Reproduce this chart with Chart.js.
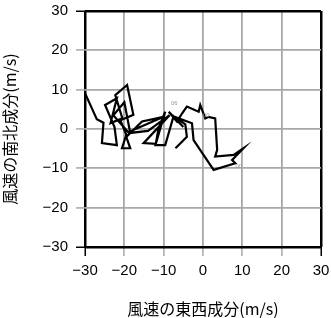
<!DOCTYPE html>
<html>
<head>
<meta charset="utf-8">
<script src="https://cdn.jsdelivr.net/npm/chart.js@4.4.1/dist/chart.umd.min.js"></script>
<style>
  html, body { margin: 0; padding: 0; background: #fff; }
  #box { width: 331px; height: 318px; }
</style>
</head>
<body>
<div id="box"><canvas id="hodo"></canvas></div>
<script>
// wind components (m/s): east-west (u) and north-south (v)
var windU = [-30, -27, -25.3, -25.7, -21.9, -22.5, -24.9, -21.9, -23.5, -20.5, -22.3, -19.3, -17.7, -21, -19.5, -20.6, -18.5, -19.5, -15.5, -10,
             -19, -22.8, -20, -18.5, -14, -8.5, -15.1, -12, -11.3, -9.6, -12.1, -9.6, -7.5, -5, -8.7, -6.6, -5.3, -4.1, -1.1, -0.7,
             0.6, 1.4, 3.1, 3.6, 3.1, 7.8, 10.3, 7.4, 8.2, 2.7, -2.4, -2.8, -7, -4.5, -4.1, -7];
var windV = [9.1, 2.5, 1.6, -3.6, -4.1, 0.5, 6.1, 7.8, 1.5, 2.7, 8.6, 11.2, 3.6, 2.2, -1.5, -4.9, -4.9, -2, 1.9, 3.1,
             -0.8, 3.5, 6.8, -1, -0.5, 3.5, -3.6, -3.8, 0.2, 4.4, -4.1, -4.1, 3.2, 0.5, 4.4, 1.9, 4, 5.7, 4.4, 6.1,
             2.7, 3.1, 2.7, -5.3, -7, -6.6, -4.9, -7.9, -8.7, -10.4, -2.8, 1.45, 3.0, 1.2, -2, -4.9];
// small time marks along the trace
var markText = ["06", "00", "00"];
var markU = [-7.3, 0.85, 9.1];
var markV = [6.6, 3.4, -9.4];

var pts = windU.map(function (u, i) { return { x: u, y: windV[i] }; });

function gridCol(c) {
  return (c.tick && (c.tick.value === -30 || c.tick.value === 30)) ? '#000' : '#a8a8a8';
}
function gridW(c) {
  return (c.tick && (c.tick.value === -30 || c.tick.value === 30)) ? 2.5 : 1.8;
}
function minusLabel(v) {
  return v < 0 ? '\u2212' + Math.abs(v) : '' + v;
}

var markPlugin = {
  id: 'marks',
  afterDatasetsDraw: function (chart) {
    var c = chart.ctx, sx = chart.scales.x, sy = chart.scales.y;
    c.save();
    c.font = '6px "Liberation Sans", Arial, sans-serif';
    c.fillStyle = '#999';
    c.textAlign = 'center';
    c.textBaseline = 'middle';
    markText.forEach(function (t, i) {
      c.fillText(t, sx.getPixelForValue(markU[i]), sy.getPixelForValue(markV[i]));
    });
    c.restore();
  }
};

var tickFont = { family: '"Liberation Sans", Arial, sans-serif', size: 15 };
var titleFont = { family: '"Noto Sans CJK JP", sans-serif', size: 16, lineHeight: 1.0 };

new Chart(document.getElementById('hodo'), {
  type: 'scatter',
  data: {
    datasets: [{
      data: pts,
      showLine: true,
      borderColor: '#000',
      borderWidth: 2.2,
      pointRadius: 0,
      tension: 0,
      fill: false
    }]
  },
  options: {
    responsive: true,
    maintainAspectRatio: false,
    animation: false,
    layout: { padding: { top: 11, right: 10, left: 0, bottom: 0 } },
    plugins: { legend: { display: false }, tooltip: { enabled: false } },
    scales: {
      x: {
        type: 'linear', min: -30, max: 30,
        afterFit: function (s) { s.height = 71; s.paddingLeft = 0; s.paddingRight = 0; },
        border: { display: false },
        grid: { color: gridCol, lineWidth: gridW, tickColor: gridCol, tickLength: 9, tickWidth: 1.5 },
        ticks: { stepSize: 10, color: '#000', font: tickFont, padding: 6, maxRotation: 0, callback: minusLabel },
        title: { display: true, text: '風速の東西成分(m/s)', color: '#000', font: titleFont, padding: { top: 0, bottom: 1 } }
      },
      y: {
        type: 'linear', min: -30, max: 30,
        afterFit: function (s) { s.width = 85; s.paddingTop = 0; s.paddingBottom = 0; },
        border: { display: false },
        grid: { color: gridCol, lineWidth: gridW, tickColor: gridCol, tickLength: 9, tickWidth: 1.5 },
        ticks: { stepSize: 10, color: '#000', font: tickFont, padding: 8, callback: minusLabel },
        title: { display: true, text: '風速の南北成分(m/s)', color: '#000', font: titleFont, padding: { top: 2, bottom: 0 } }
      }
    }
  },
  plugins: [markPlugin]
});
</script>
</body>
</html>
